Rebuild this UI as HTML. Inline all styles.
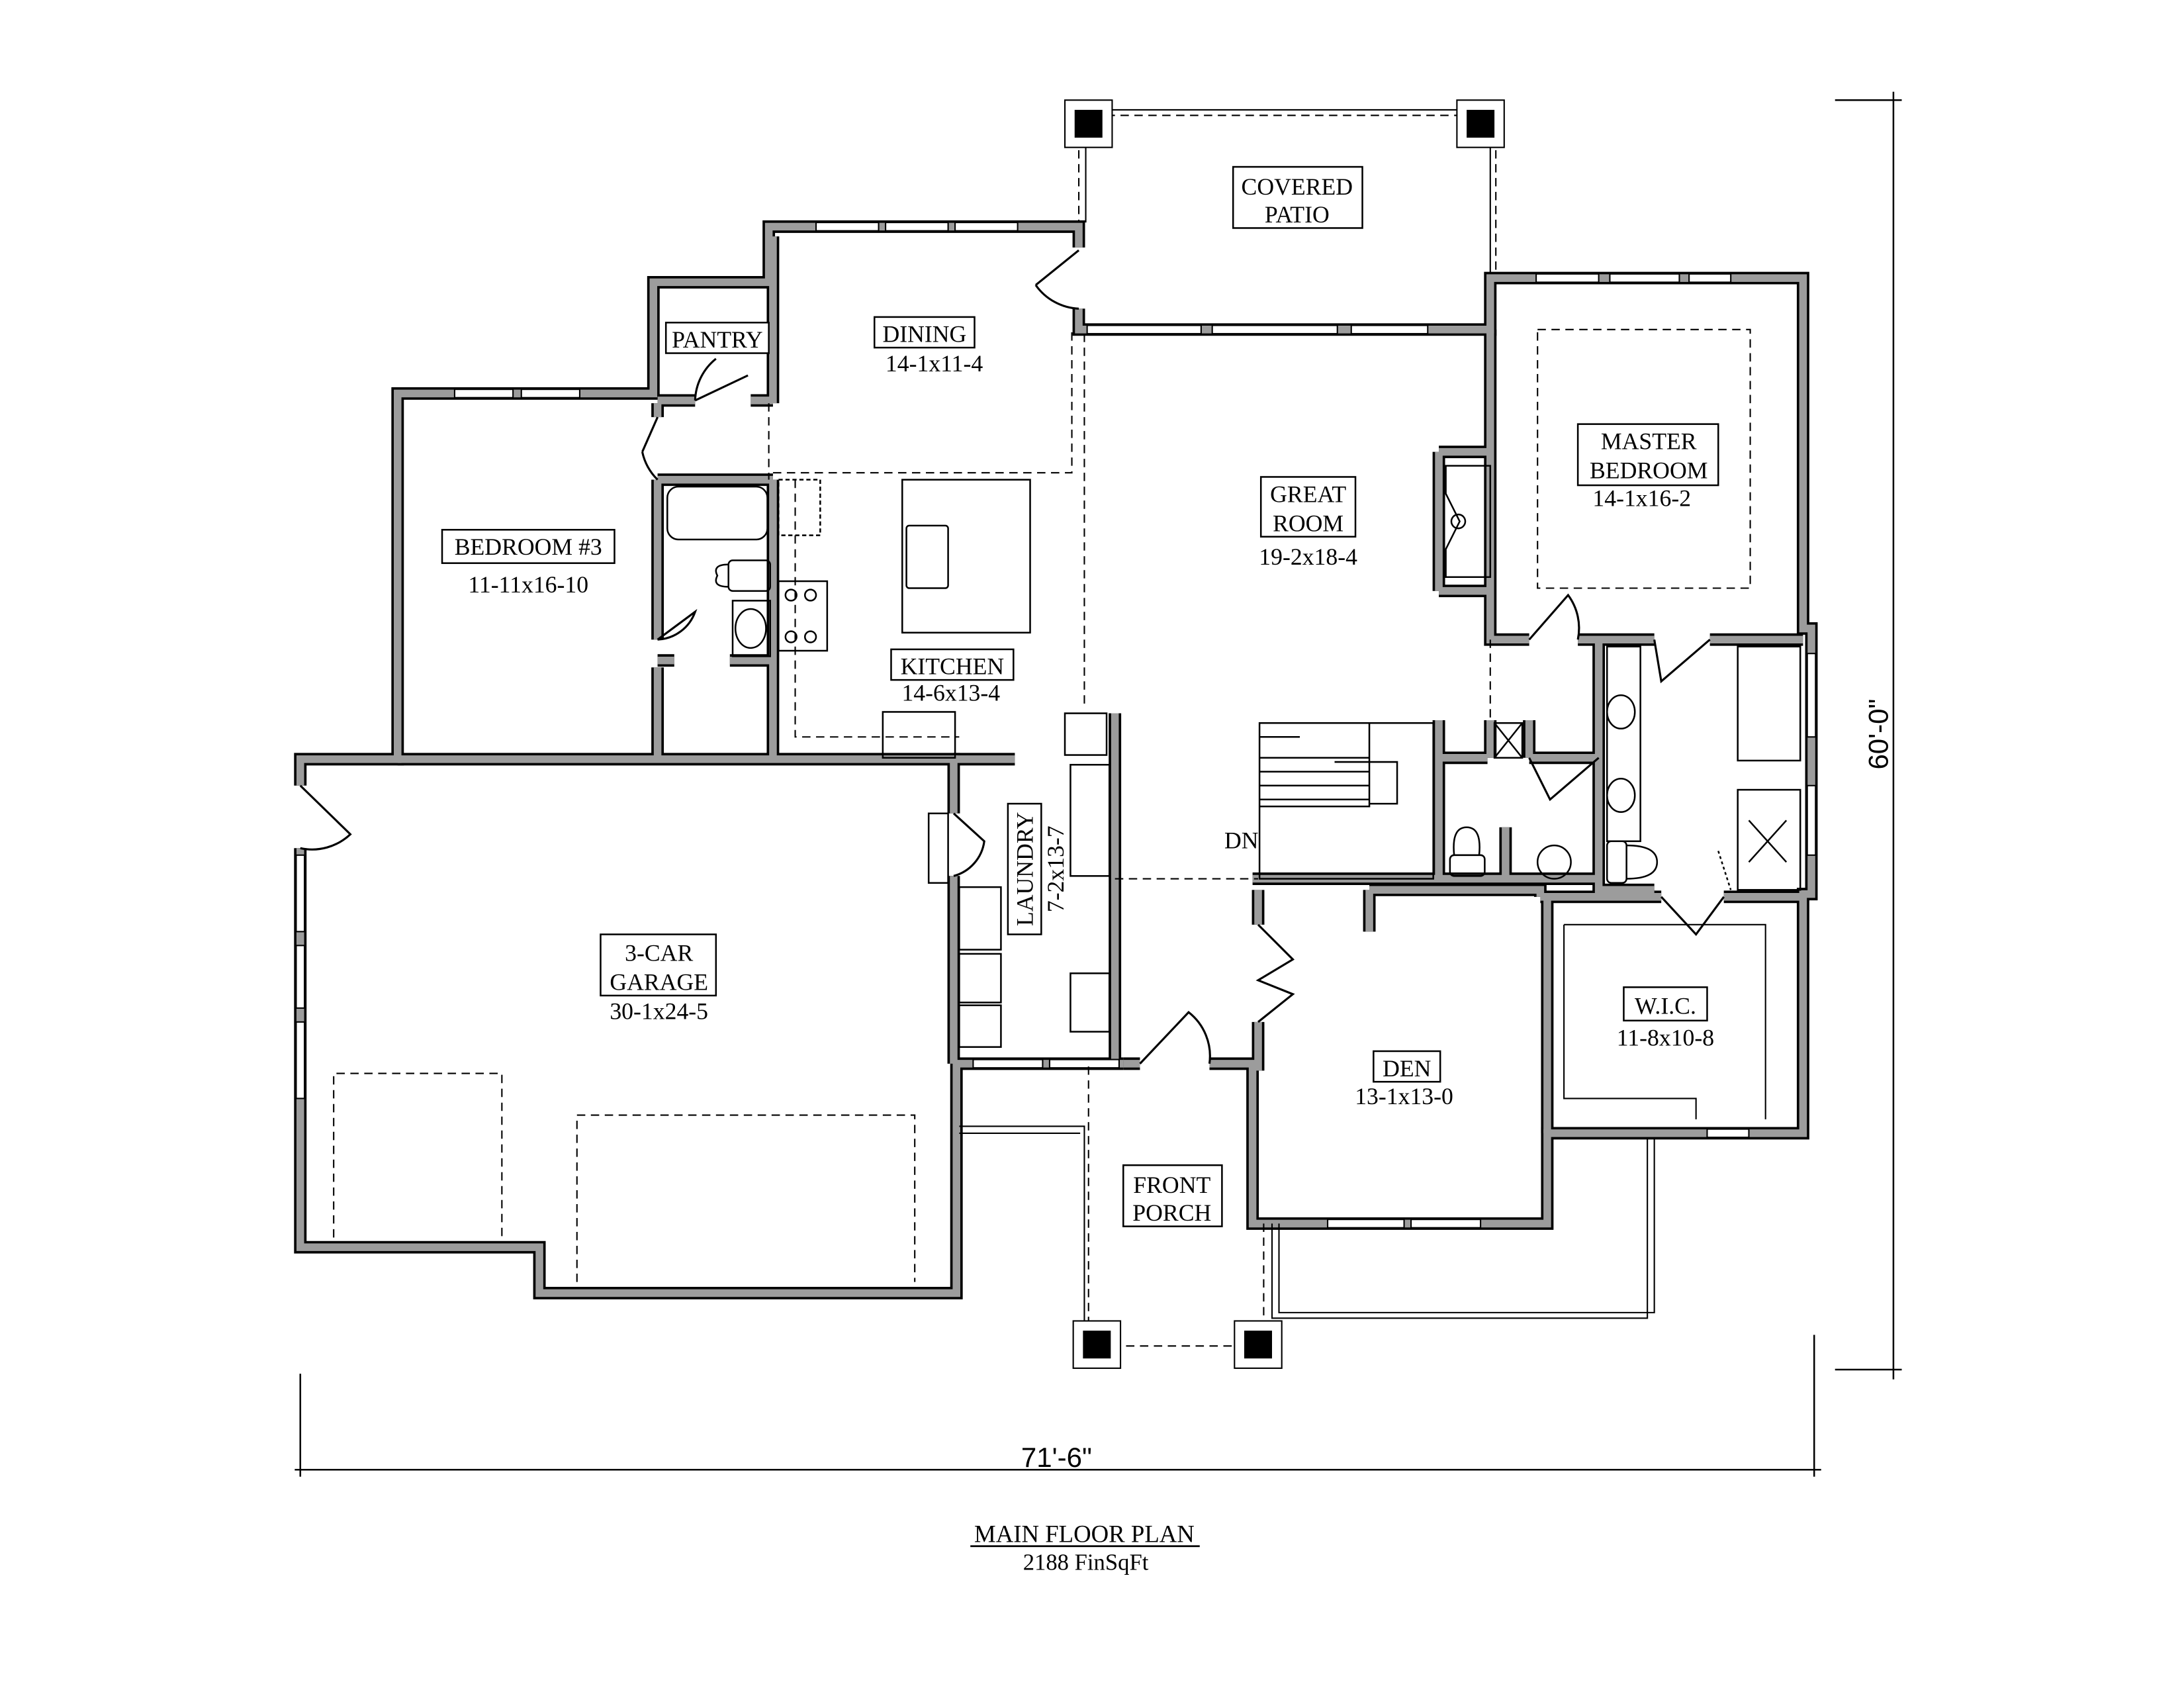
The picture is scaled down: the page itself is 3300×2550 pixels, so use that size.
<!DOCTYPE html>
<html><head><meta charset="utf-8"><style>
html,body{margin:0;padding:0;background:#fff}
svg{display:block}
text{font-family:"Liberation Serif",serif;fill:#000}
</style></head><body>
<svg width="3300" height="2550" viewBox="0 0 1571 1214" xmlns="http://www.w3.org/2000/svg">
<defs>
<g id="walls" fill="none">
<path d="M216,565 L216,546 L286,546 L286,283 L470,283 L470,203 L553,203 L553,163 L776,163 L776,178"/>
<path d="M776,222 L776,237 L1072,237 L1072,200 L1297,200 L1297,452 L1303,452 L1303,643 L1297,643 L1297,815 L1113,815 L1113,880 L901,880 L901,765 L870,765"/>
<path d="M820,765 L808,765"/>
<path d="M808,765 L688,765 L688,930 L388,930 L388,897 L216,897 L216,610"/>
<path d="M556,170 L556,290"/>
<path d="M556,345 L556,546"/>
<path d="M473,288 L500,288"/><path d="M540,288 L556,288"/>
<path d="M473,290 L473,300"/>
<path d="M473,345 L473,460"/><path d="M473,480 L473,546"/>
<path d="M473,345 L556,345"/>
<path d="M473,475 L485,475"/><path d="M525,475 L556,475"/>
<path d="M286,546 L686,546 L686,585"/>
<path d="M686,630 L686,765"/>
<path d="M686,546 L730,546"/>
<path d="M802,513 L802,765"/>
<path d="M1072,237 L1072,460 L1100,460"/><path d="M1135,460 L1190,460"/><path d="M1230,460 L1297,460"/>
<path d="M1150,460 L1150,640 L1190,640"/>
<path d="M1035,518 L1035,632"/>
<path d="M1035,545 L1070,545"/><path d="M1100,545 L1150,545"/>
<path d="M1072,518 L1072,545"/><path d="M1100,518 L1100,545"/>
<path d="M901,632 L1150,632"/>
<path d="M1083,595 L1083,632"/>
<path d="M985,640 L1108,640 L1108,645"/>
<path d="M905,640 L905,665"/><path d="M905,735 L905,770"/>
<path d="M1108,645 L1195,645"/><path d="M1240,645 L1297,645"/>
<path d="M1113,645 L1113,815"/>
<path d="M985,640 L985,670"/>
<path d="M1035,325 L1072,325"/><path d="M1035,425 L1072,425"/><path d="M1035,325 L1035,425"/>
</g>
</defs>
<use href="#walls" stroke="#000" stroke-width="9" stroke-linejoin="miter"/>
<use href="#walls" stroke="#9c9c9c" stroke-width="5.5" stroke-linejoin="miter"/>

<g fill="#fff" stroke="#000" stroke-width="1">
<rect x="587" y="160" width="45" height="6"/><rect x="637" y="160" width="45" height="6"/><rect x="687" y="160" width="45" height="6"/>
<rect x="327" y="280" width="42" height="6"/><rect x="375" y="280" width="42" height="6"/>
<rect x="782" y="234" width="82" height="6"/><rect x="872" y="234" width="90" height="6"/><rect x="972" y="234" width="55" height="6"/>
<rect x="1105" y="197" width="45" height="6"/><rect x="1158" y="197" width="50" height="6"/><rect x="1215" y="197" width="30" height="6"/>
<rect x="1300" y="470" width="6" height="60"/><rect x="1300" y="565" width="6" height="50"/>
<rect x="213" y="615" width="6" height="55"/><rect x="213" y="680" width="6" height="45"/><rect x="213" y="735" width="6" height="55"/>
<rect x="955" y="877" width="55" height="6"/><rect x="1015" y="877" width="50" height="6"/>
<rect x="1228" y="812" width="30" height="6"/>
<rect x="700" y="762" width="50" height="6"/><rect x="755" y="762" width="50" height="6"/>
</g>

<g fill="none" stroke="#000" stroke-width="1.5">
<path d="M776,180 L745,205"/><path d="M745,205 A40,40 0 0 0 776,222"/>
<path d="M500,288 L538,270"/><path d="M515,258 A40,40 0 0 0 500,288"/>
<path d="M473,300 L462,325"/><path d="M462,325 A40,40 0 0 0 473,345"/>
<path d="M473,460 L500,440 A30,30 0 0 1 473,460"/>
<path d="M216,565 L252,600 A40,40 0 0 1 216,610"/>
<path d="M686,585 L708,605 A30,30 0 0 1 686,630"/>
<path d="M820,765 L855,728 A40,40 0 0 1 870,765"/>
<path d="M905,665 L930,690 L905,705 L930,715 L905,735"/>
<path d="M1100,460 L1128,428 A40,40 0 0 1 1135,460"/>
<path d="M1190,460 L1195,490 L1230,460"/>
<path d="M1100,545 L1115,575 L1150,545"/>
<path d="M1195,645 L1220,672 L1240,645"/>
</g>

<g fill="none" stroke="#000" stroke-width="1" stroke-dasharray="6,4">
<path d="M556,340 L771,340 L771,237"/>
<path d="M780,240 L780,510"/>
<path d="M553,290 L553,345"/>
<path d="M802,632 L905,632"/>
<path d="M1072,460 L1072,518"/>
<path d="M1106,237 L1259,237 L1259,423 L1106,423 Z"/>
<path d="M572,345 L572,530 L690,530"/>
<path d="M240,890 L240,772 L361,772 L361,890"/>
<path d="M415,922 L415,802 L658,802 L658,922"/>
<path d="M776,98 L776,160"/><path d="M1076,98 L1076,197"/>
<path d="M796,83 L1052,83"/>
<path d="M783,767 L783,960"/><path d="M909,880 L909,960"/>
<path d="M800,968 L893,968"/>
</g>
<g fill="none" stroke="#000" stroke-width="1">
<path d="M781,98 L781,160"/><path d="M1072,98 L1072,197"/>
<path d="M796,79 L1052,79"/>
<path d="M690,810 L780,810 L780,960"/><path d="M690,815 L777,815"/>
<path d="M915,880 L915,948 L1185,948 L1185,818"/><path d="M920,880 L920,944 L1190,944 L1190,818"/>
<path d="M1125,665 L1270,665 L1270,805"/><path d="M1125,665 L1125,790 L1220,790 L1220,805"/>
</g>

<g>
<rect x="766" y="72" width="34" height="34" fill="#fff" stroke="#000"/><rect x="773" y="79" width="20" height="20"/>
<rect x="1048" y="72" width="34" height="34" fill="#fff" stroke="#000"/><rect x="1055" y="79" width="20" height="20"/>
<rect x="772" y="950" width="34" height="34" fill="#fff" stroke="#000"/><rect x="779" y="957" width="20" height="20"/>
<rect x="888" y="950" width="34" height="34" fill="#fff" stroke="#000"/><rect x="895" y="957" width="20" height="20"/>
</g>

<g fill="none" stroke="#000" stroke-width="1.2">
<rect x="480" y="350" width="72" height="38" rx="8"/>
<rect x="524" y="403" width="30" height="22" rx="3"/><path d="M524,406 Q512,406 516,414 Q512,422 524,422"/>
<rect x="527" y="432" width="27" height="40"/><ellipse cx="540" cy="452" rx="11" ry="14"/>
<rect x="560" y="345" width="30" height="40" stroke-dasharray="3,2"/>
<rect x="560" y="418" width="35" height="50"/>
<circle cx="569" cy="428" r="4"/><circle cx="583" cy="428" r="4"/><circle cx="569" cy="458" r="4"/><circle cx="583" cy="458" r="4"/>
<rect x="649" y="345" width="92" height="110"/>
<rect x="652" y="378" width="30" height="45" rx="2"/>
<rect x="635" y="512" width="52" height="33"/>
<rect x="766" y="513" width="30" height="30"/>
<rect x="770" y="550" width="28" height="80"/>
<rect x="770" y="700" width="28" height="42"/>
<rect x="690" y="638" width="30" height="45"/><rect x="690" y="686" width="30" height="35"/><rect x="690" y="723" width="30" height="30"/>
<rect x="668" y="585" width="14" height="50"/>
<rect x="906" y="520" width="125" height="112"/>
<path d="M906,545 L985,545 M906,580 L985,580 L985,520 M906,555 L985,555 M906,565 L985,565 M906,575 L985,575 M906,530 L935,530"/>
<path d="M960,548 L1005,548 L1005,578 L985,578"/>
<rect x="1075" y="520" width="20" height="25"/><path d="M1075,520 L1095,545 M1095,520 L1075,545"/>
<rect x="1043" y="615" width="25" height="15" rx="3"/><path d="M1046,615 Q1044,595 1055,595 Q1066,595 1064,615"/>
<circle cx="1118" cy="620" r="12"/>
<rect x="1156" y="605" width="14" height="30" rx="3"/><path d="M1170,608 Q1192,608 1192,620 Q1192,632 1170,632"/>
<rect x="1156" y="465" width="24" height="140"/>
<ellipse cx="1166" cy="512" rx="10" ry="12"/><ellipse cx="1166" cy="572" rx="10" ry="12"/>
<rect x="1250" y="465" width="45" height="82"/>
<rect x="1250" y="568" width="45" height="72"/>
<path d="M1258,590 L1285,620 M1285,590 L1258,620"/>
<path d="M1040,335 L1072,335 L1072,415 L1040,415 L1040,395 L1050,375 L1040,355 Z"/>
<circle cx="1049" cy="375" r="5"/>
<path d="M1236,612 L1245,640" stroke-dasharray="2,2"/>
</g>

<g fill="#fff" stroke="#000" stroke-width="1.2">
<rect x="887" y="120" width="93" height="44"/>
<rect x="629" y="228" width="72" height="22"/>
<rect x="479" y="232" width="74" height="22"/>
<rect x="318" y="381" width="124" height="24"/>
<rect x="907" y="343" width="68" height="43"/>
<rect x="1135" y="305" width="101" height="44"/>
<rect x="641" y="467" width="88" height="22"/>
<rect x="725" y="578" width="24" height="94"/>
<rect x="432" y="672" width="83" height="44"/>
<rect x="988" y="756" width="48" height="22"/>
<rect x="1168" y="710" width="60" height="24"/>
<rect x="808" y="838" width="71" height="44"/>
</g>
<g font-size="17" text-anchor="middle">
<text x="933" y="140">COVERED</text><text x="933" y="160">PATIO</text>
<text x="665" y="246">DINING</text><text x="672" y="267">14-1x11-4</text>
<text x="516" y="250">PANTRY</text>
<text x="380" y="399">BEDROOM #3</text><text x="380" y="426">11-11x16-10</text>
<text x="941" y="361">GREAT</text><text x="941" y="382">ROOM</text><text x="941" y="406">19-2x18-4</text>
<text x="1186" y="323">MASTER</text><text x="1186" y="344">BEDROOM</text><text x="1181" y="364">14-1x16-2</text>
<text x="685" y="485">KITCHEN</text><text x="684" y="504">14-6x13-4</text>
<text transform="translate(743,625) rotate(-90)">LAUNDRY</text>
<text transform="translate(765,625) rotate(-90)">7-2x13-7</text>
<text x="474" y="691">3-CAR</text><text x="474" y="712">GARAGE</text><text x="474" y="733">30-1x24-5</text>
<text x="1012" y="774">DEN</text><text x="1010" y="794">13-1x13-0</text>
<text x="1198" y="729">W.I.C.</text><text x="1198" y="752">11-8x10-8</text>
<text x="843" y="858">FRONT</text><text x="843" y="878">PORCH</text>
<text x="893" y="610">DN</text>
<text x="780" y="1109" font-size="17.5">MAIN FLOOR PLAN</text>
<text x="781" y="1129" font-size="16.5">2188 FinSqFt</text>
</g>
<line x1="698" y1="1112" x2="863" y2="1112" stroke="#000" stroke-width="1.3"/>

<g stroke="#000" stroke-width="1.2" fill="none">
<path d="M216,988 L216,1062 M1305,960 L1305,1062 M212,1057 L1310,1057"/>
<path d="M1320,72 L1368,72 M1320,985 L1368,985 M1362,66 L1362,992"/>
</g>
<g font-size="20" text-anchor="middle">
<text x="760" y="1055" style="font-family:'Liberation Sans',sans-serif">71'-6"</text>
<text transform="translate(1358,528) rotate(-90)" style="font-family:'Liberation Sans',sans-serif">60'-0"</text>
</g>
</svg>
</body></html>
